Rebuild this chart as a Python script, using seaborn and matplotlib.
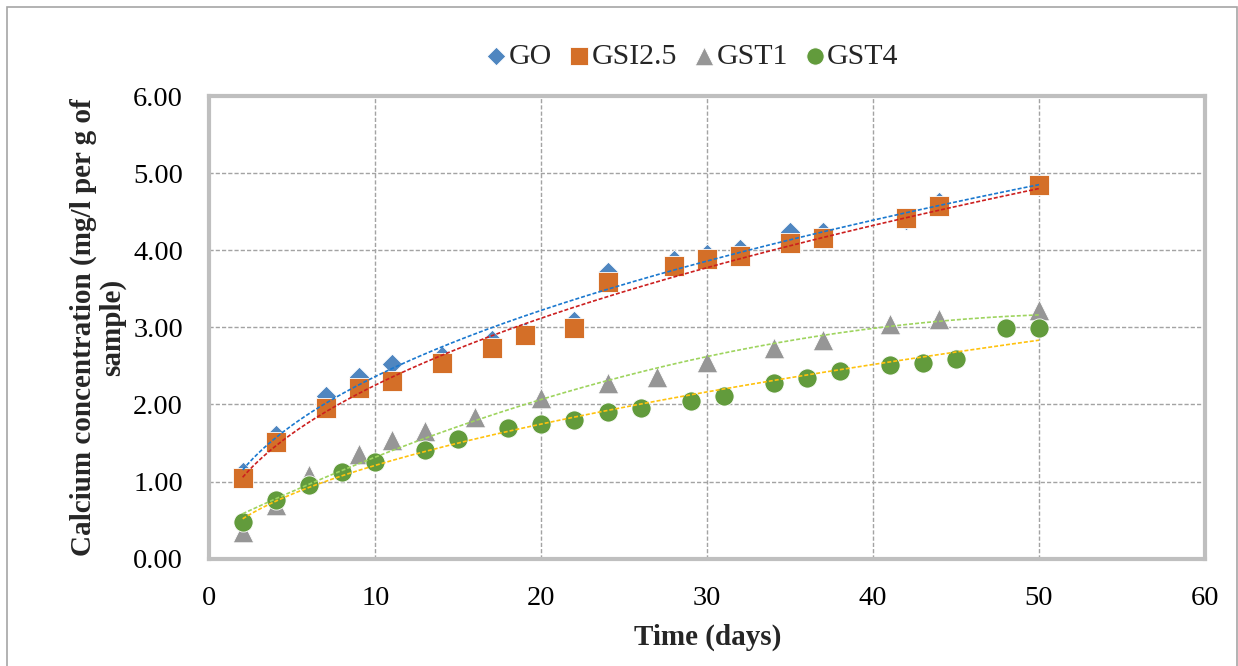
import numpy as np
import seaborn as sns
import matplotlib.pyplot as plt
from matplotlib.patches import Rectangle

# Calcium release over time for each sample
days_go = [2, 4, 7, 9, 11, 14, 17, 19, 22, 24, 28, 30, 32, 35, 37, 42, 44, 50]
ca_go = [1.12, 1.60, 2.11, 2.36, 2.52, 2.63, 2.84, 2.94, 3.08, 3.72, 3.88, 3.95,
         4.02, 4.24, 4.24, 4.39, 4.62, 4.87]

days_gsi = [2, 4, 7, 9, 11, 14, 17, 19, 22, 24, 28, 30, 32, 35, 37, 42, 44, 50]
ca_gsi = [1.05, 1.51, 1.96, 2.21, 2.31, 2.54, 2.73, 2.90, 2.99, 3.59, 3.80, 3.89,
          3.93, 4.10, 4.16, 4.42, 4.58, 4.85]

days_gst1 = [2, 4, 6, 9, 11, 13, 16, 20, 24, 27, 30, 34, 37, 41, 44, 50]
ca_gst1 = [0.35, 0.70, 1.08, 1.36, 1.54, 1.65, 1.84, 2.08, 2.28, 2.36, 2.55, 2.73,
           2.83, 3.05, 3.11, 3.22]

days_gst4 = [2, 4, 6, 8, 10, 13, 15, 18, 20, 22, 24, 26, 29, 31, 34, 36, 38, 41,
             43, 45, 48, 50]
ca_gst4 = [0.48, 0.76, 0.96, 1.13, 1.25, 1.41, 1.55, 1.69, 1.75, 1.80, 1.90, 1.95,
           2.05, 2.11, 2.28, 2.34, 2.43, 2.51, 2.54, 2.59, 2.99, 2.99]

series_names = ["GO", "GSI2.5", "GST1", "GST4"]
x_ticks = [0, 10, 20, 30, 40, 50, 60]
y_ticks = [0, 1, 2, 3, 4, 5, 6]

sns.set_theme(style="white")
plt.rcParams["font.family"] = ["Liberation Serif", "DejaVu Serif"]

FS = 20.5
FS_LABEL = 21
fig = plt.figure(figsize=(12.38, 6.66), dpi=100)
ax = fig.add_axes([0.1692, 0.1611, 0.8041, 0.6947])

data = [days_go, ca_go, days_gsi, ca_gsi, days_gst1, ca_gst1, days_gst4, ca_gst4]
markers = ["D", "s", "^", "o"]
sizes = [10.5, 13.9, 14.8, 13.8]
colors = ["#4F86C0", "#D46F28", "#969696", "#629B3C"]
trend_colors = ["#1A78CF", "#CC1F1F", "#9ED45E", "#FFC20E"]
trend_kind = ["power", "power", "poly2", "power"]

for i, name in enumerate(series_names):
    x = np.asarray(data[2 * i], dtype=float)
    y = np.asarray(data[2 * i + 1], dtype=float)
    sns.scatterplot(x=x, y=y, marker=markers[i], s=sizes[i] ** 2,
                    color=colors[i], edgecolor="white", linewidth=0.6,
                    label=name, ax=ax, zorder=3 + i)

# Fitted trend curves over the measured range
for i in range(len(series_names)):
    x = np.asarray(data[2 * i], dtype=float)
    y = np.asarray(data[2 * i + 1], dtype=float)
    xx = np.linspace(x.min(), x.max(), 300)
    if trend_kind[i] == "power":
        b, ln_a = np.polyfit(np.log(x), np.log(y), 1)
        yy = np.exp(ln_a) * xx ** b
    else:
        yy = np.polyval(np.polyfit(x, y, 2), xx)
    sns.lineplot(x=xx, y=yy, color=trend_colors[i], linewidth=1.2,
                 linestyle=(0, (2.4, 1.2)), ax=ax, zorder=10, legend=False)

ax.set_xlim(0, 60)
ax.set_ylim(0, 6)
ax.set_xticks(x_ticks)
ax.set_yticks(y_ticks)
ax.set_xticklabels([str(t) for t in x_ticks])
ax.set_yticklabels([f"{t:.2f}" for t in y_ticks])
ax.tick_params(axis="both", length=0, labelsize=FS, colors="black")
ax.tick_params(axis="y", pad=19)
ax.tick_params(axis="x", pad=19.5)

ax.grid(True, color="#A3A3A3", linestyle=(0, (3, 1.5)), linewidth=1.0)
ax.set_axisbelow(True)
for sp in ax.spines.values():
    sp.set_color("#BFBFBF")
    sp.set_linewidth(3.0)

ax.set_xlabel("Time (days)", fontsize=FS_LABEL, fontweight="bold", labelpad=9)
ax.set_ylabel("Calcium concentration (mg/l per g of\nsample)", fontsize=FS_LABEL,
              fontweight="bold", labelpad=5, linespacing=1.08)

handles, labels = ax.get_legend_handles_labels()
if ax.legend_ is not None:
    ax.legend_.remove()
fig.legend(handles, labels, loc="center", bbox_to_anchor=(0.5586, 0.915), ncol=4,
           frameon=False, fontsize=21.5, markerscale=0.9, handlelength=0.8,
           handletextpad=0.02, columnspacing=0.5)

# chart area border
fig.add_artist(Rectangle((7 / 1238, -0.1), (1236.5 - 7) / 1238, 1 - 7 / 666 + 0.1,
                         transform=fig.transFigure, fill=False,
                         edgecolor="#A6A6A6", linewidth=1.2))

fig.savefig("out.png", dpi=100, facecolor="white")
